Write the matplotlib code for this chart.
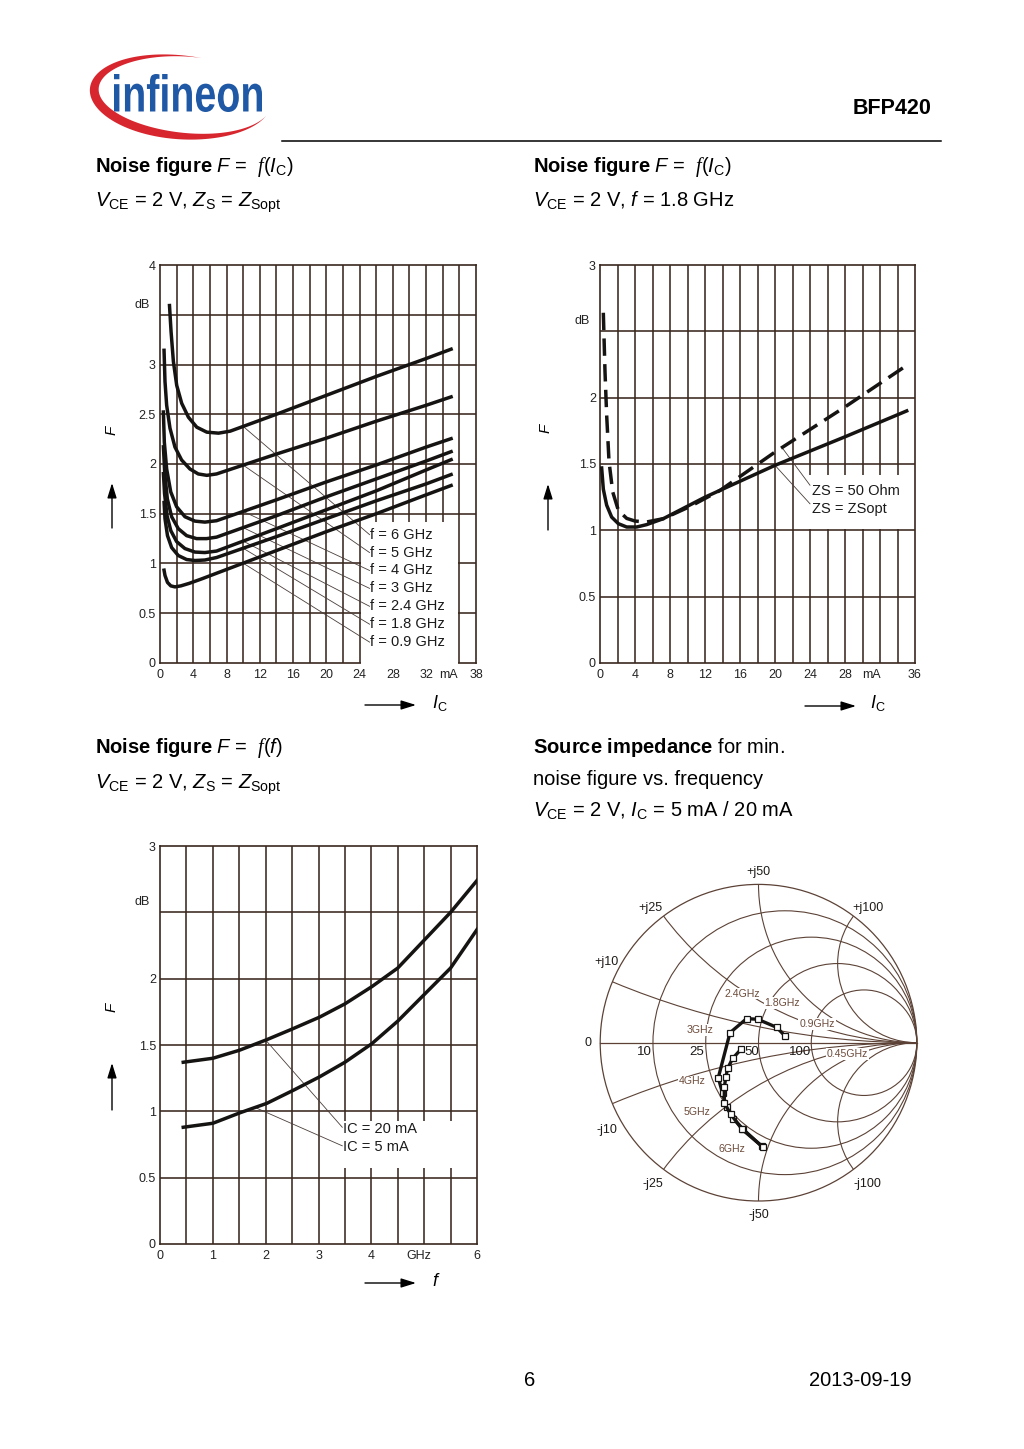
import numpy as np
import matplotlib
matplotlib.use('Agg')
import matplotlib.pyplot as plt
from matplotlib.patches import Rectangle, Circle, PathPatch, Polygon
from matplotlib.textpath import TextPath
from matplotlib.font_manager import FontProperties
from matplotlib.transforms import Affine2D

plt.rcParams.update({
    'font.family': ['Liberation Sans', 'DejaVu Sans'],
    'mathtext.fontset': 'custom',
    'mathtext.rm': 'Liberation Sans',
    'mathtext.it': 'Liberation Sans:italic',
    'mathtext.bf': 'Liberation Sans:bold',
    'mathtext.cal': 'Liberation Serif:italic',
})

# ---- top left: F = f(Ic) for several frequencies (mA, dB) ----
freq_labels = ['f = 6 GHz', 'f = 5 GHz', 'f = 4 GHz', 'f = 3 GHz',
               'f = 2.4 GHz', 'f = 1.8 GHz', 'f = 0.9 GHz']
ic_6g = [1.13, 1.33, 1.61, 2.01, 2.61, 3.42, 4.42, 5.63, 7.04, 8.44, 14, 20, 26, 32, 35.2]
nf_6g = [3.61, 3.33, 3.03, 2.79, 2.61, 2.47, 2.37, 2.32, 2.31, 2.33, 2.50, 2.69, 2.88, 3.06, 3.16]
ic_5g = [0.48, 0.6, 0.8, 1.2, 1.8, 2.6, 3.6, 4.6, 5.63, 6.8, 14, 20, 26, 32, 35.2]
nf_5g = [3.16, 2.83, 2.59, 2.36, 2.17, 2.04, 1.95, 1.90, 1.886, 1.90, 2.10, 2.26, 2.43, 2.59, 2.68]
ic_4g = [0.4, 0.52, 0.8, 1.29, 2.0, 3.0, 4.2, 5.4, 6.8, 14, 20, 26, 32, 35.2]
nf_4g = [2.54, 2.22, 1.95, 1.72, 1.57, 1.47, 1.426, 1.416, 1.43, 1.64, 1.82, 1.99, 2.17, 2.26]
ic_3g = [0.4, 0.56, 0.88, 1.4, 2.2, 3.2, 4.4, 5.6, 6.8, 14, 20, 26, 32, 35.2]
nf_3g = [2.19, 1.92, 1.65, 1.47, 1.35, 1.28, 1.25, 1.25, 1.265, 1.48, 1.67, 1.85, 2.03, 2.13]
ic_24g = [0.4, 0.55, 0.85, 1.3, 2.0, 3.0, 4.2, 5.4, 6.8, 14, 20, 26, 32, 35.2]
nf_24g = [1.92, 1.70, 1.48, 1.33, 1.22, 1.15, 1.115, 1.11, 1.125, 1.35, 1.54, 1.73, 1.94, 2.05]
ic_18g = [0.48, 0.6, 0.9, 1.4, 2.2, 3.2, 4.2, 5.4, 6.8, 14, 20, 26, 32, 35.2]
nf_18g = [1.63, 1.45, 1.28, 1.16, 1.08, 1.04, 1.03, 1.035, 1.06, 1.27, 1.45, 1.63, 1.80, 1.90]
ic_09g = [0.45, 0.6, 0.9, 1.3, 1.8, 2.5, 3.5, 5.0, 14, 20, 26, 32, 35.2]
nf_09g = [0.95, 0.88, 0.81, 0.775, 0.765, 0.775, 0.80, 0.845, 1.13, 1.32, 1.50, 1.69, 1.79]
label_y_tl = [1.29, 1.11, 0.93, 0.75, 0.57, 0.39, 0.21]

# ---- top right: F = f(Ic) at 1.8 GHz ----
ic_opt = [0.19, 0.38, 0.76, 1.33, 2.1, 3.05, 4.2, 5.33, 7.24, 12, 20, 28, 35.05]
nf_opt = [1.47, 1.31, 1.19, 1.10, 1.05, 1.025, 1.025, 1.043, 1.088, 1.25, 1.49, 1.705, 1.90]
ic_50 = [0.38, 0.57, 0.76, 1.03, 1.45, 2.1, 3.05, 4.0, 5.33, 7.24, 10.3, 13.7, 20, 28, 35.2]
nf_50 = [2.64, 2.20, 1.87, 1.52, 1.29, 1.15, 1.09, 1.07, 1.063, 1.088, 1.18, 1.30, 1.59, 1.93, 2.25]

# ---- bottom left: F = f(f) ----
f_20 = [0.44, 1.0, 1.5, 2.02, 2.5, 3.02, 3.5, 4.01, 4.5, 5.0, 5.5, 6.0]
nf_20 = [1.37, 1.40, 1.46, 1.54, 1.62, 1.71, 1.81, 1.94, 2.08, 2.29, 2.50, 2.74]
f_5 = [0.44, 1.0, 1.52, 2.02, 2.53, 3.02, 3.5, 4.01, 4.5, 5.0, 5.5, 6.0]
nf_5 = [0.88, 0.91, 0.99, 1.06, 1.16, 1.26, 1.37, 1.51, 1.68, 1.88, 2.08, 2.37]

# ---- Smith chart: reflection coefficient of Zs,opt ----
ga_re = [0.168, 0.115, -0.005, -0.075, -0.18, -0.254, -0.227, -0.201, -0.159, -0.096, 0.02]
ga_im = [0.042, 0.097, 0.148, 0.152, 0.063, -0.221, -0.320, -0.405, -0.479, -0.548, -0.654]
gb_re = [-0.111, -0.163, -0.195, -0.206, -0.216, -0.216, -0.176, -0.103, 0.027]
gb_im = [-0.042, -0.099, -0.162, -0.215, -0.282, -0.380, -0.451, -0.548, -0.658]
r_norm = [0.2, 0.5, 1, 2]
x_norm = [0.2, 0.5, 1, 2]
smith_freqs = ['2.4GHz', '1.8GHz', '0.9GHz', '0.45GHz', '3GHz', '4GHz', '5GHz', '6GHz']
smith_freq_pos = [(-0.10, 0.31), (0.15, 0.25), (0.37, 0.12), (0.56, -0.07),
                  (-0.37, 0.08), (-0.42, -0.245), (-0.39, -0.44), (-0.17, -0.67)]

W, H = 1024, 1449
INK = '#161412'
GRID = '#3a281f'
SG = '#5c4236'

fig = plt.figure(figsize=(W / 100, H / 100), dpi=100)
page = fig.add_axes([0, 0, 1, 1], zorder=0)
page.set_xlim(0, W)
page.set_ylim(H, 0)
page.axis('off')


def px_axes(l, t, r, b):
    return fig.add_axes([l / W, 1 - b / H, (r - l) / W, (b - t) / H], zorder=2)


def grid_chart(ax, xmax, xstep, ymax, xt, xtl, yt, ytl):
    ax.set_xlim(0, xmax)
    ax.set_ylim(0, ymax)
    for v in np.arange(xstep, xmax, xstep):
        ax.axvline(v, color=GRID, lw=1.15, zorder=1)
    for v in np.arange(0.5, ymax, 0.5):
        ax.axhline(v, color=GRID, lw=1.15, zorder=1)
    for s in ax.spines.values():
        s.set_color(GRID)
        s.set_linewidth(1.2)
    ax.set_xticks(xt, xtl)
    ax.set_yticks(yt, ytl)
    ax.tick_params(length=0, labelsize=9, colors='#222222')
    ax.tick_params(axis='x', pad=4)
    ax.tick_params(axis='y', pad=3)


def arrow(x1, y1, x2, y2):
    page.annotate('', xy=(x2, y2), xytext=(x1, y1),
                  arrowprops=dict(arrowstyle='-|>,head_length=0.9,head_width=0.28',
                                  color='black', lw=1.0, shrinkA=0, shrinkB=0))


def leader(ax, x0, y0, xs, ys, xc):
    ax.plot([x0, xc], [y0, np.interp(xc, xs, ys)], color='#4a3e3a', lw=0.6, zorder=3)


# ---------------- top left ----------------
ax1 = px_axes(160, 265, 476, 663)
grid_chart(ax1, 38, 2, 4,
           [0, 4, 8, 12, 16, 20, 24, 28, 32, 34.7, 38],
           ['0', '4', '8', '12', '16', '20', '24', '28', '32', 'mA', '38'],
           [0, 0.5, 1, 1.5, 2, 2.5, 3, 4], ['0', '0.5', '1', '1.5', '2', '2.5', '3', '4'])
ax1.add_patch(Rectangle((24.15, -0.03), 11.7, 1.45, fc='white', ec='none', zorder=2.6, clip_on=False))
curves_tl = [(ic_6g, nf_6g), (ic_5g, nf_5g), (ic_4g, nf_4g), (ic_3g, nf_3g),
             (ic_24g, nf_24g), (ic_18g, nf_18g), (ic_09g, nf_09g)]
for (xs, ys), lab, ly in zip(curves_tl, freq_labels, label_y_tl):
    ax1.plot(xs, ys, color=INK, lw=2.5, zorder=4, solid_capstyle='butt')
    leader(ax1, 25.2, ly, xs, ys, 10)
    ax1.text(25.3, ly, lab, fontsize=10.5, va='center', ha='left', color='#1a1a1a', zorder=5)

# ---------------- top right ----------------
ax2 = px_axes(600, 265, 915, 663)
grid_chart(ax2, 36, 2, 3,
           [0, 4, 8, 12, 16, 20, 24, 28, 31, 36],
           ['0', '4', '8', '12', '16', '20', '24', '28', 'mA', '36'],
           [0, 0.5, 1, 1.5, 2, 3], ['0', '0.5', '1', '1.5', '2', '3'])
ax2.add_patch(Rectangle((23.8, 1.01), 12.05, 0.41, fc='white', ec='none', zorder=2.2))
ax2.plot(ic_opt, nf_opt, color=INK, lw=2.5, zorder=4)
ax2.plot(ic_50, nf_50, color=INK, lw=2.5, zorder=4, dashes=(5, 2.4))
leader(ax2, 24.0, 1.34, ic_50, nf_50, 20.8)
leader(ax2, 24.0, 1.20, ic_opt, nf_opt, 20.0)
ax2.text(24.2, 1.30, 'ZS = 50 Ohm', fontsize=10.5, va='center', color='#1a1a1a', zorder=5)
ax2.text(24.2, 1.16, 'ZS = ZSopt', fontsize=10.5, va='center', color='#1a1a1a', zorder=5)

# ---------------- bottom left ----------------
ax3 = px_axes(160, 846, 477, 1244)
grid_chart(ax3, 6, 0.5, 3,
           [0, 1, 2, 3, 4, 4.9, 6], ['0', '1', '2', '3', '4', 'GHz', '6'],
           [0, 0.5, 1, 1.5, 2, 3], ['0', '0.5', '1', '1.5', '2', '3'])
ax3.add_patch(Rectangle((3.45, 0.57), 2.52, 0.36, fc='white', ec='none', zorder=2.2))
ax3.plot(f_20, nf_20, color=INK, lw=2.5, zorder=4)
ax3.plot(f_5, nf_5, color=INK, lw=2.5, zorder=4)
leader(ax3, 3.45, 0.88, f_20, nf_20, 2.0)
leader(ax3, 3.45, 0.74, f_5, nf_5, 1.8)
ax3.text(3.47, 0.87, 'IC = 20 mA', fontsize=10.5, va='center', color='#1a1a1a', zorder=5)
ax3.text(3.47, 0.73, 'IC = 5 mA', fontsize=10.5, va='center', color='#1a1a1a', zorder=5)

# dB unit labels and axis labels
for x, y in [(142, 305), (582, 321), (142, 902)]:
    page.text(x, y, 'dB', fontsize=9, ha='center', va='center', color='#222222')
for x, y in [(112, 430), (546, 428), (112, 1007)]:
    page.text(x, y, '$F$', fontsize=11, rotation=90, ha='center', va='center')
arrow(112, 528, 112, 483)
arrow(548, 530, 548, 484)
arrow(112, 1110, 112, 1063)
arrow(365, 705, 416, 705)
arrow(805, 706, 856, 706)
arrow(365, 1283, 416, 1283)
page.text(440, 703, '$I_\\mathrm{C}$', fontsize=13, ha='center', va='center')
page.text(878, 703, '$I_\\mathrm{C}$', fontsize=13, ha='center', va='center')
page.text(436, 1282, '$f$', fontsize=13, ha='center', va='center')

# ---------------- Smith chart ----------------
R = 158.3
cx, cy = 758.5, 1042.7
half = 1.25 * R
sm = px_axes(cx - half, cy - half, cx + half, cy + half)
sm.set_xlim(-1.25, 1.25)
sm.set_ylim(-1.25, 1.25)
sm.axis('off')
unit = Circle((0, 0), 1, fill=False, ec=SG, lw=0.9, zorder=1)
sm.add_patch(unit)
for r in r_norm:
    sm.add_patch(Circle((r / (1 + r), 0), 1 / (1 + r), fill=False, ec=SG, lw=0.8, zorder=1))
for xv in x_norm:
    for s in (1, -1):
        c = Circle((1, s / xv), 1 / xv, fill=False, ec=SG, lw=0.8, zorder=1)
        sm.add_patch(c)
        c.set_clip_path(unit)
sm.plot([-1, 1], [0, 0], color=SG, lw=0.9, zorder=1)
for xs, ys in [(ga_re, ga_im), (gb_re, gb_im)]:
    sm.plot(xs, ys, color=INK, lw=2.4, zorder=4, marker='s', ms=4.5, mfc='white',
            mec=INK, mew=0.9)
outer = [('+j50', 0, 1.08), ('+j25', -0.68, 0.85), ('+j10', -0.96, 0.51), ('0', -1.08, 0),
         ('-j10', -0.96, -0.55), ('-j25', -0.67, -0.89), ('-j50', 0, -1.09),
         ('-j100', 0.69, -0.89), ('+j100', 0.69, 0.85)]
for t, x, y in outer:
    sm.text(x, y, t, fontsize=9, ha='center', va='center', color='#1e1a18')
for t, x in [('10', -0.72), ('25', -0.39), ('50', -0.04), ('100', 0.26)]:
    sm.text(x, -0.06, t, fontsize=9.5, ha='center', va='center', color='#1e1a18', zorder=3)
for t, (x, y) in zip(smith_freqs, smith_freq_pos):
    sm.text(x, y, t, fontsize=7.6, ha='center', va='center', color='#6d4c3c', zorder=3,
            bbox=dict(fc='white', ec='none', pad=0.6))

# ---------------- page furniture ----------------
# logo
fp = FontProperties(family='Liberation Sans', weight='bold')
tp = TextPath((0, 0), 'infineon', size=100, prop=fp)
bb = tp.get_extents()
sx = (262 - 114) / bb.width
sy = (112 - 74) / bb.height
tr = Affine2D().translate(-bb.x0, -bb.y0).scale(sx, -sy).translate(114, 112)
page.add_patch(PathPatch(tr.transform_path(tp), fc='#1f58a4', ec='none'))
th = np.linspace(np.radians(80), np.radians(342), 200)
phi = np.radians(-5)
a, b = 89, 40
tk = 9.5 * np.sin(np.pi * (th - th[0]) / (th[-1] - th[0])) ** 1.2


def ell(aa, bb_):
    X = aa * np.cos(th)
    Y = bb_ * np.sin(th)
    return 183 + X * np.cos(phi) - Y * np.sin(phi), 96 - (X * np.sin(phi) + Y * np.cos(phi))


ox, oy = ell(a + tk / 2, b + tk / 2)
ix, iy = ell(a - tk / 2, b - tk / 2)
page.add_patch(Polygon(np.column_stack([np.r_[ox, ix[::-1]], np.r_[oy, iy[::-1]]]),
                       fc='#d8262f', ec='none'))

page.text(932, 108, 'BFP420', fontsize=15.5, fontweight='bold', ha='right', va='center')
page.plot([282, 941], [141, 141], color='black', lw=1.1)

TS = 14.5
page.text(95, 172, r'$\mathbf{Noise\ figure}$ $F$ =  $\mathcal{f}(I_\mathrm{C})$', fontsize=TS, va='baseline')
page.text(95, 207, r'$V_\mathrm{CE}$ = 2 V, $Z_\mathrm{S}$ = $Z_\mathrm{Sopt}$', fontsize=TS, va='baseline')
page.text(533, 172, r'$\mathbf{Noise\ figure}$ $F$ =  $\mathcal{f}(I_\mathrm{C})$', fontsize=TS, va='baseline')
page.text(533, 207, r'$V_\mathrm{CE}$ = 2 V, $f$ = 1.8 GHz', fontsize=TS, va='baseline')
page.text(95, 753, r'$\mathbf{Noise\ figure}$ $F$ =  $\mathcal{f}(f)$', fontsize=TS, va='baseline')
page.text(95, 789, r'$V_\mathrm{CE}$ = 2 V, $Z_\mathrm{S}$ = $Z_\mathrm{Sopt}$', fontsize=TS, va='baseline')
page.text(533, 753, r'$\mathbf{Source\ impedance}$ for min.', fontsize=TS, va='baseline')
page.text(533, 785, 'noise figure vs. frequency', fontsize=TS, va='baseline')
page.text(533, 817, r'$V_\mathrm{CE}$ = 2 V, $I_\mathrm{C}$ = 5 mA / 20 mA', fontsize=TS, va='baseline')

page.text(530, 1380, '6', fontsize=14.5, ha='center', va='center')
page.text(912, 1380, '2013-09-19', fontsize=14.5, ha='right', va='center')

fig.savefig('out.png', dpi=100)
